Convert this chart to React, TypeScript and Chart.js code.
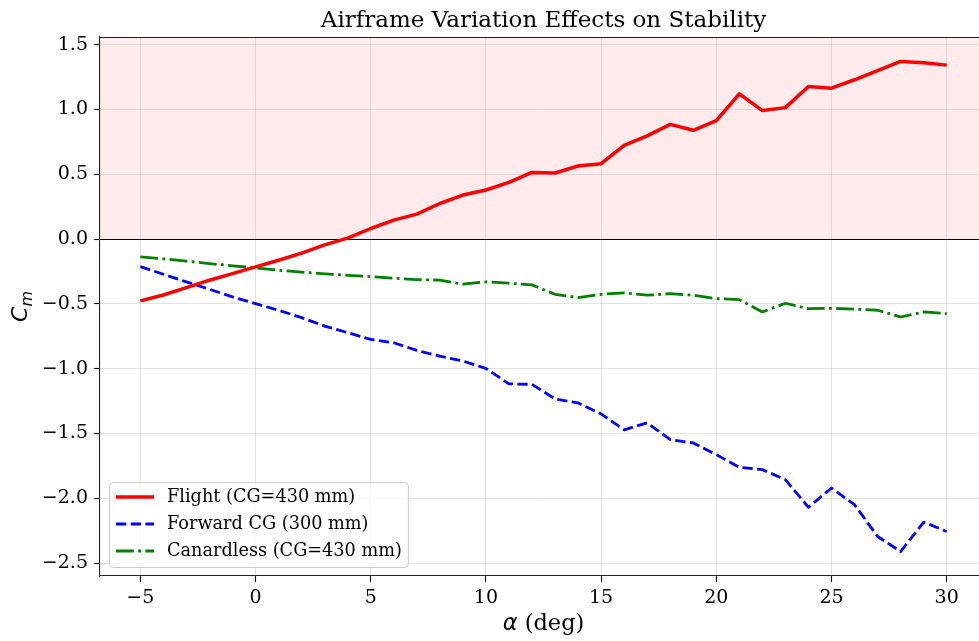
import React, { useEffect, useRef } from "react";
import { Chart, registerables } from "chart.js";
Chart.register(...registerables);

const alpha = [-5, -4, -3, -2, -1, 0, 1, 2, 3, 4, 5, 6, 7, 8, 9, 10, 11, 12, 13, 14, 15, 16, 17, 18, 19, 20, 21, 22, 23, 24, 25, 26, 27, 28, 29, 30];
const flight = [-0.477, -0.431, -0.374, -0.317, -0.266, -0.214, -0.163, -0.108, -0.044, 0.008, 0.082, 0.147, 0.193, 0.275, 0.34, 0.379, 0.438, 0.515, 0.51, 0.564, 0.582, 0.724, 0.797, 0.886, 0.84, 0.915, 1.121, 0.992, 1.015, 1.178, 1.165, 1.23, 1.3, 1.371, 1.361, 1.343];
const forwardCG = [-0.212, -0.271, -0.33, -0.387, -0.446, -0.498, -0.549, -0.606, -0.671, -0.722, -0.774, -0.8, -0.859, -0.903, -0.941, -0.998, -1.117, -1.121, -1.233, -1.264, -1.349, -1.472, -1.418, -1.547, -1.573, -1.663, -1.761, -1.779, -1.856, -2.07, -1.921, -2.05, -2.295, -2.411, -2.184, -2.256];
const canardless = [-0.137, -0.152, -0.17, -0.189, -0.206, -0.222, -0.24, -0.255, -0.268, -0.279, -0.289, -0.302, -0.312, -0.317, -0.348, -0.33, -0.34, -0.353, -0.426, -0.451, -0.426, -0.415, -0.433, -0.421, -0.433, -0.459, -0.467, -0.562, -0.495, -0.537, -0.534, -0.541, -0.549, -0.601, -0.562, -0.575];
const seriesLabels = ["Flight (CG=430 mm)", "Forward CG (300 mm)", "Canardless (CG=430 mm)"];
const xTicks = [-5, 0, 5, 10, 15, 20, 25, 30];
const yTicks = [-2.5, -2.0, -1.5, -1.0, -0.5, 0.0, 0.5, 1.0, 1.5];
const titleText = "Airframe Variation Effects on Stability";

const SERIF = "'DejaVu Serif', serif";
const SANS = "'DejaVu Sans', sans-serif";
const COLORS = ["#ff0000", "#0000ff", "#008000"];
const WIDTHS = [3.5, 2.8, 2.8];
const DASHES: number[][] = [[], [10.3, 4.4], [17.8, 4.4, 2.8, 4.4]];

const fmtMinus = (s: string) => s.replace("-", "\u2212");

const decor = {
  id: "decor",
  beforeDraw(chart: any) {
    const { ctx, chartArea: a, scales } = chart;
    const y0 = scales.y.getPixelForValue(0);
    ctx.save();
    ctx.fillStyle = "#fff";
    ctx.fillRect(0, 0, chart.width, chart.height);
    ctx.fillStyle = "rgba(255,0,0,0.08)";
    ctx.fillRect(a.left, a.top, a.right - a.left, y0 - a.top);
    ctx.restore();
  },
  beforeDatasetsDraw(chart: any) {
    const { ctx, chartArea: a, scales } = chart;
    const y0 = Math.round(scales.y.getPixelForValue(0)) + 0.5;
    ctx.save();
    ctx.strokeStyle = "#000";
    ctx.lineWidth = 1.1;
    ctx.beginPath();
    ctx.moveTo(a.left, y0);
    ctx.lineTo(a.right, y0);
    ctx.stroke();
    ctx.restore();
  },
  afterDraw(chart: any) {
    const { ctx, chartArea: a } = chart;
    ctx.save();
    // top spine
    ctx.strokeStyle = "#222";
    ctx.lineWidth = 1.1;
    ctx.beginPath();
    ctx.moveTo(a.left, a.top + 0.5);
    ctx.lineTo(a.right, a.top + 0.5);
    ctx.stroke();

    // title
    const cx = (a.left + a.right) / 2;
    ctx.fillStyle = "#000";
    ctx.font = `23px ${SERIF}`;
    ctx.textAlign = "center";
    ctx.textBaseline = "alphabetic";
    ctx.fillText(titleText, cx, 27);

    // x label: alpha (deg)
    ctx.textAlign = "left";
    ctx.font = `italic 22.5px ${SANS}`;
    const wa = ctx.measureText("\u03b1").width;
    ctx.font = `22.5px ${SERIF}`;
    const wd = ctx.measureText(" (deg)").width;
    const sx = cx - (wa + wd) / 2;
    ctx.font = `italic 22.5px ${SANS}`;
    ctx.fillText("\u03b1", sx, 630);
    ctx.font = `22.5px ${SERIF}`;
    ctx.fillText(" (deg)", sx + wa, 630);

    // y label: C_m
    ctx.save();
    ctx.translate(27, (a.top + a.bottom) / 2);
    ctx.rotate(-Math.PI / 2);
    ctx.font = `italic 22px ${SANS}`;
    const wc = ctx.measureText("C").width;
    ctx.font = `italic 16px ${SANS}`;
    const wm = ctx.measureText("m").width;
    const st = -(wc + wm) / 2;
    ctx.font = `italic 22px ${SANS}`;
    ctx.fillText("C", st, 0);
    ctx.font = `italic 16px ${SANS}`;
    ctx.fillText("m", st + wc, 5);
    ctx.restore();

    // legend
    ctx.font = `17.7px ${SERIF}`;
    const tw = Math.max(...seriesLabels.map((l) => ctx.measureText(l).width));
    const lx = a.left + 9;
    const bottom = a.bottom - 9;
    const rowH = 27;
    const h = rowH * 3 + 4;
    const top = bottom - h;
    const w = 58 + tw + 6;
    ctx.beginPath();
    (ctx as any).roundRect(lx + 0.5, top + 0.5, w, h, 4);
    ctx.fillStyle = "rgba(255,255,255,0.8)";
    ctx.fill();
    ctx.strokeStyle = "#cccccc";
    ctx.lineWidth = 1;
    ctx.stroke();
    seriesLabels.forEach((lab, i) => {
      const ry = top + 15 + i * rowH;
      ctx.beginPath();
      ctx.strokeStyle = COLORS[i];
      ctx.lineWidth = WIDTHS[i];
      ctx.setLineDash(DASHES[i]);
      ctx.lineCap = "butt";
      ctx.moveTo(lx + 7, ry);
      ctx.lineTo(lx + 45, ry);
      ctx.stroke();
      ctx.setLineDash([]);
      ctx.fillStyle = "#000";
      ctx.textBaseline = "middle";
      ctx.fillText(lab, lx + 58, ry);
    });
    ctx.restore();
  },
};

export default function App() {
  const ref = useRef<HTMLCanvasElement>(null);
  useEffect(() => {
    const mk = (ys: number[]) => alpha.map((x, i) => ({ x, y: ys[i] }));
    const grid = {
      color: "rgba(176,176,176,0.4)",
      lineWidth: 0.9,
      tickColor: "#000",
      tickLength: 6,
      tickWidth: 1.1,
      drawTicks: true,
    };
    const chart = new Chart(ref.current!, {
      type: "line",
      data: {
        datasets: [flight, forwardCG, canardless].map((ys, i) => ({
          label: seriesLabels[i],
          data: mk(ys),
          borderColor: COLORS[i],
          backgroundColor: COLORS[i],
          borderWidth: WIDTHS[i],
          borderDash: DASHES[i],
          borderJoinStyle: "round" as const,
          borderCapStyle: "butt" as const,
          pointRadius: 0,
          tension: 0,
          fill: false,
        })),
      },
      options: {
        responsive: false,
        animation: false,
        devicePixelRatio: 1,
        layout: { padding: { top: 37, left: 0, right: 0, bottom: 0 } },
        plugins: { legend: { display: false }, title: { display: false }, tooltip: { enabled: false } },
        scales: {
          x: {
            type: "linear",
            min: -6.75,
            max: 31.75,
            afterBuildTicks: (s: any) => {
              s.ticks = xTicks.map((v) => ({ value: v }));
            },
            afterFit: (s: any) => {
              s.height = 65;
            },
            ticks: {
              autoSkip: false,
              maxRotation: 0,
              padding: 5,
              color: "#000",
              font: { family: SERIF, size: 19 },
              callback: (v: any) => fmtMinus(String(v)),
            },
            grid,
            border: { color: "#222", width: 1.1 },
          },
          y: {
            type: "linear",
            min: -2.6,
            max: 1.56,
            afterBuildTicks: (s: any) => {
              s.ticks = yTicks.map((v) => ({ value: v }));
            },
            afterFit: (s: any) => {
              s.width = 100;
            },
            ticks: {
              autoSkip: false,
              padding: 6,
              color: "#000",
              font: { family: SERIF, size: 19 },
              callback: (v: any) => fmtMinus(Number(v).toFixed(1)),
            },
            grid,
            border: { color: "#222", width: 1.1 },
          },
        },
      },
      plugins: [decor],
    });
    return () => chart.destroy();
  }, []);
  return (
    <div style={{ position: "fixed", left: 0, top: 0, width: 979, height: 641, overflow: "hidden", background: "#fff" }}>
      <canvas ref={ref} width={987} height={641} style={{ display: "block" }} />
    </div>
  );
}
